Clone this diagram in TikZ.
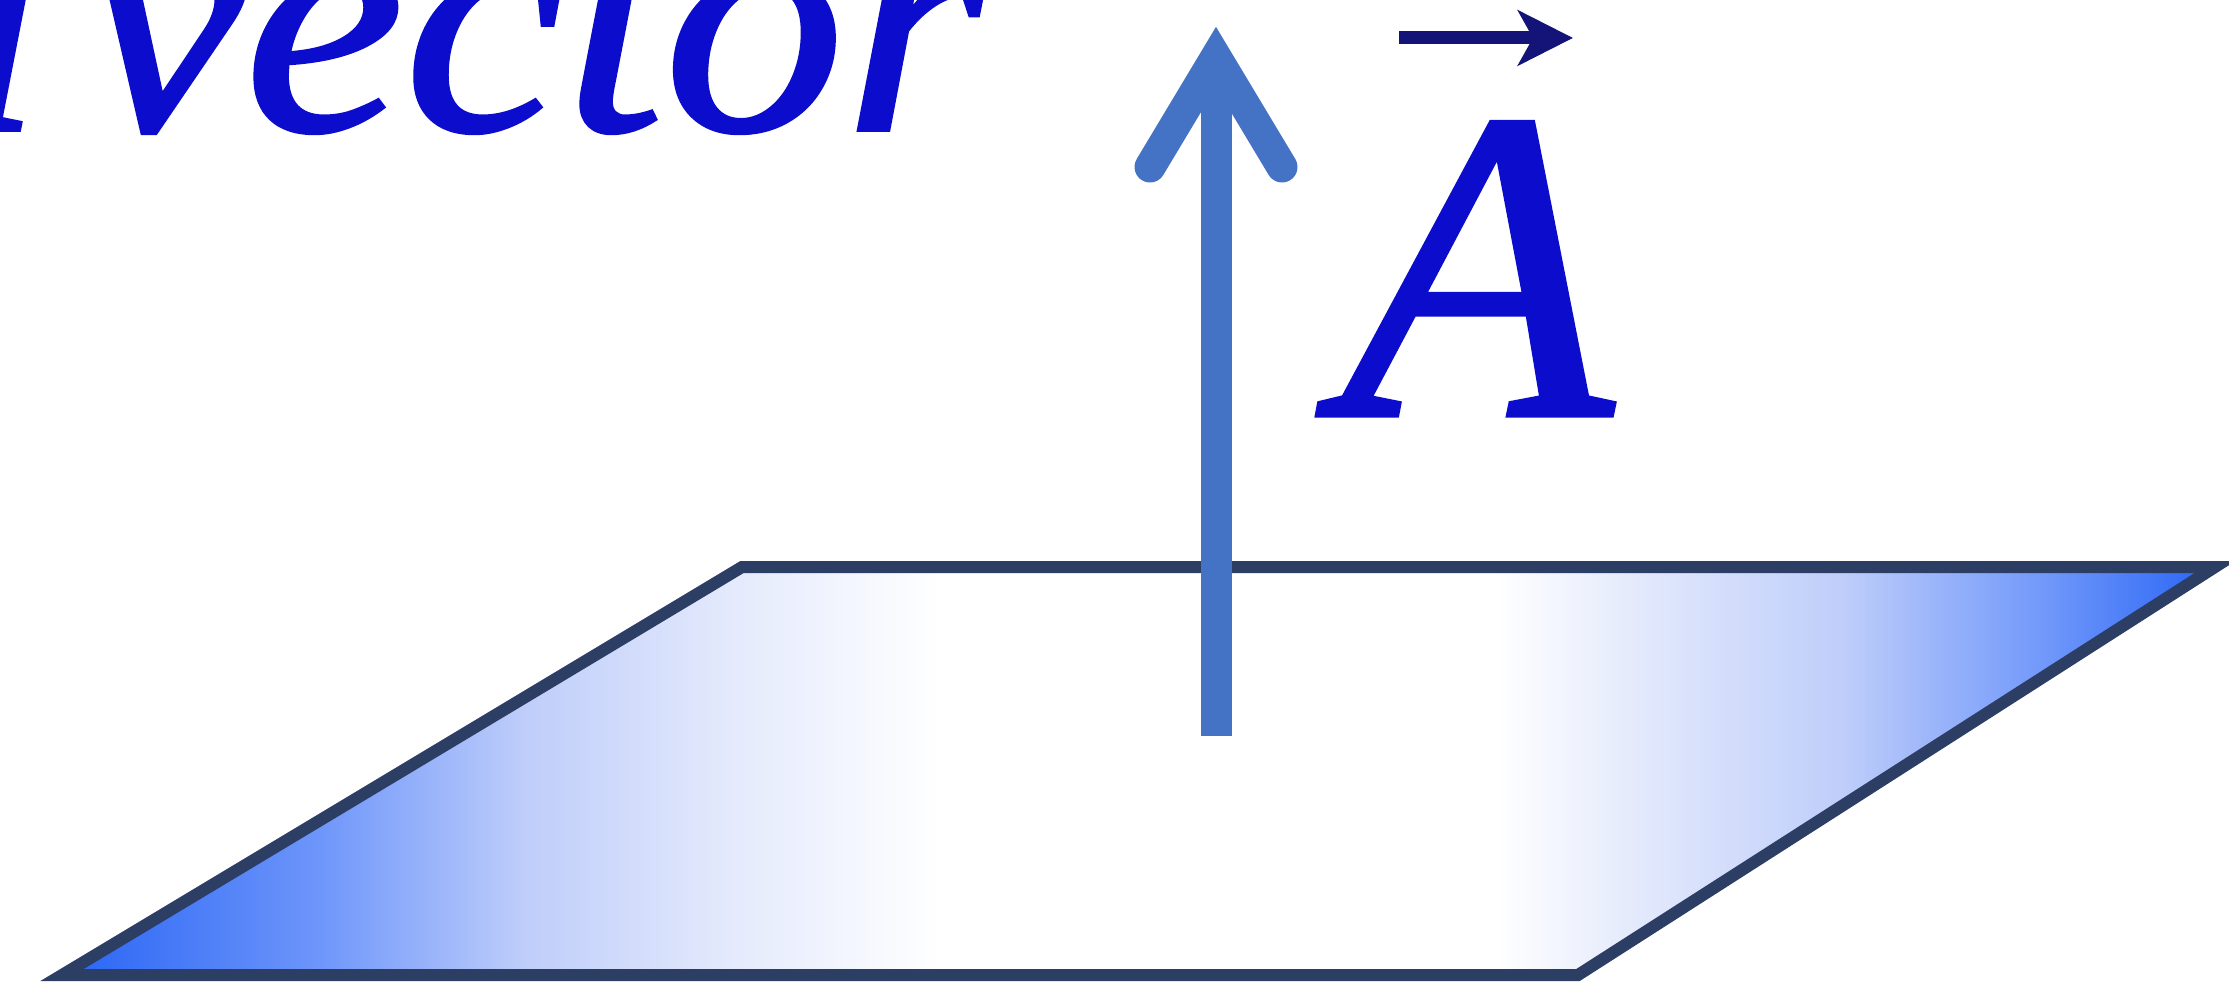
\documentclass[tikz,border=0pt]{standalone}
\usepackage{fontspec}
\usepackage{graphicx}
\setmainfont{Liberation Serif}
\newfontfamily\heavyserif[FakeBold=1.2]{Liberation Serif}
\usetikzlibrary{arrows.meta}

\definecolor{textblue}{RGB}{12,12,205}
\definecolor{vecdark}{RGB}{20,20,120}
\definecolor{arrowblue}{RGB}{68,114,196}
\definecolor{edgeslate}{RGB}{45,62,100}
\definecolor{planeblue}{RGB}{40,100,245}
\definecolor{planemid}{RGB}{110,150,250}
\definecolor{planelight}{RGB}{190,205,250}
\definecolor{planepale}{RGB}{228,234,252}
\pgfdeclarehorizontalshading{planeshade}{100bp}{color(0bp)=(planeblue); color(25bp)=(planeblue); color(31bp)=(planemid); color(35.7bp)=(planelight); color(40.5bp)=(planepale); color(45.4bp)=(white); color(58.3bp)=(white); color(61.5bp)=(planepale); color(66.4bp)=(planelight); color(71.2bp)=(planemid); color(75bp)=(planeblue); color(100bp)=(planeblue)}

\begin{document}
\begin{tikzpicture}[
  surface/.style={draw=edgeslate, line width=1.2mm, line join=miter, shading=planeshade},
  normalarrow/.style={draw=arrowblue, line width=3.1mm},
  title/.style={anchor=base east, inner sep=0pt, text=textblue, font=\fontsize{94}{100}\heavyserif\itshape},
  veclabel/.style={anchor=base west, inner sep=0pt, text=textblue, font=\fontsize{126}{130}\heavyserif\itshape},
  vecarrow/.style={draw=vecdark, line width=1.3mm, -{Stealth[length=5.5mm, width=5.5mm, inset=1.5mm]}}
]
  \useasboundingbox (0,0) rectangle (22.29,9.95);
  \clip (0,0) rectangle (22.29,9.95);

  % the plane
  \path[surface] (0.62,0.20) -- (15.78,0.20) -- (22.15,4.28) -- (7.42,4.28) -- cycle;

  % the normal vector
  \coordinate (foot) at (12.16,2.59);
  \coordinate (head) at (12.16,9.38);
  \draw[normalarrow] (foot) -- (head);
  \draw[normalarrow, line cap=round, line join=miter] ([shift={(-0.66,-1.10)}]head) -- (head) -- ([shift={(0.66,-1.10)}]head);

  % labels
  \node[title] (name) at (9.85,8.65) {\scalebox{1.09}[1]{Area\hspace{-12.3pt} vector}};
  \node[veclabel] (A) at (13.41,5.80) {A};
  \draw[vecarrow] ([shift={(0.58,0.84)}]A.north west) -- ([shift={(2.32,0.84)}]A.north west);
\end{tikzpicture}
\end{document}
